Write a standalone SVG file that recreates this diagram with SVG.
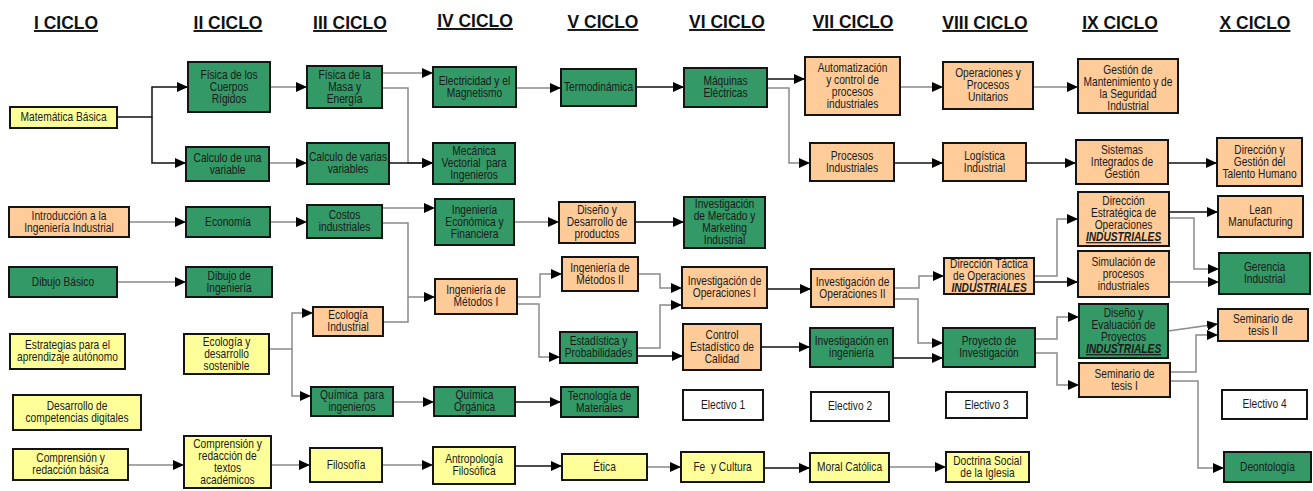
<svg xmlns="http://www.w3.org/2000/svg" width="1313" height="491" viewBox="0 0 1313 491">
<style>
rect{stroke:#141414;stroke-width:2}
.g{fill:#339966}.o{fill:#FFCC99}.y{fill:#FFFF99}.w{fill:#ffffff}
text{font-family:"Liberation Sans",Arial,sans-serif;text-anchor:middle;fill:#1a1a1a;transform-box:fill-box;transform-origin:center}
.t{font-size:12px;transform:scaleX(0.85)}
.h{font-size:19px;font-weight:bold;text-decoration:underline;transform:scaleX(0.92);fill:#111}
.ind{font-weight:bold;font-style:italic;text-decoration:underline}
#connectors path{fill:none;stroke-width:1.5}
.k{stroke:#111}.s{stroke:#8a8a8a}
.a{marker-end:url(#arr)}
</style>
<defs>
<marker id="arr" markerUnits="userSpaceOnUse" markerWidth="11" markerHeight="10" refX="11" refY="5" orient="auto"><path d="M0,0 L11,5 L0,10 z" fill="#000"/></marker>
</defs>
<g id="headers">
<text class="h" x="66" y="29">I CICLO</text>
<text class="h" x="228" y="29">II CICLO</text>
<text class="h" x="350" y="29">III CICLO</text>
<text class="h" x="475" y="27">IV CICLO</text>
<text class="h" x="603" y="28">V CICLO</text>
<text class="h" x="727" y="28">VI CICLO</text>
<text class="h" x="853" y="28">VII CICLO</text>
<text class="h" x="985" y="29">VIII CICLO</text>
<text class="h" x="1120" y="29">IX CICLO</text>
<text class="h" x="1255" y="29">X CICLO</text>
</g>
<g id="connectors">
<path class="k a" d="M117,117 H152 V87 H188"/>
<path class="k a" d="M152,117 V163 H186"/>
<path class="s a" d="M270,87 H307"/>
<path class="s a" d="M269,163 H307"/>
<path class="s a" d="M382,73 H433"/>
<path class="s a" d="M382,88 H408 V163 H433"/>
<path class="k a" d="M389,163 H433"/>
<path class="s a" d="M516,88 H561"/>
<path class="k a" d="M636,87 H684"/>
<path class="k a" d="M767,79 H805"/>
<path class="s a" d="M767,88 H789 V163 H810"/>
<path class="s a" d="M900,87 H943"/>
<path class="s a" d="M1033,87 H1078"/>
<path class="k a" d="M894,163 H943"/>
<path class="k a" d="M1026,163 H1076"/>
<path class="k a" d="M1168,163 H1217"/>
<path class="s a" d="M129,222 H186"/>
<path class="s a" d="M270,222 H307"/>
<path class="s a" d="M382,208 H435"/>
<path class="s a" d="M382,223 H408 V297 H435"/>
<path class="s" d="M383,322 H408 V297"/>
<path class="s a" d="M514,222 H559"/>
<path class="k a" d="M635,222 H684"/>
<path class="s a" d="M517,297 H540 V274 H562"/>
<path class="s a" d="M517,304 H539 V357 H560"/>
<path class="s a" d="M638,274 H660 V288 H682"/>
<path class="s a" d="M637,348 H660 V305 H682"/>
<path class="k a" d="M637,356 H683"/>
<path class="k a" d="M767,289 H811"/>
<path class="s a" d="M894,288 H919 V276 H944"/>
<path class="s a" d="M894,299 H918 V343 H943"/>
<path class="k a" d="M761,347 H810"/>
<path class="k a" d="M893,358 H943"/>
<path class="s a" d="M1034,276 H1057 V219 H1078"/>
<path class="k a" d="M1034,282 H1078"/>
<path class="k a" d="M1169,212 H1218"/>
<path class="s a" d="M1169,218 H1194 V269 H1219"/>
<path class="s a" d="M1169,282 H1219"/>
<path class="s a" d="M1035,339 H1057 V317 H1079"/>
<path class="s a" d="M1035,353 H1057 V385 H1079"/>
<path class="s a" d="M1168,331 L1218,324"/>
<path class="s a" d="M1170,372 H1196 V335 H1218"/>
<path class="s a" d="M1170,381 H1198 V468 H1224"/>
<path class="s a" d="M117,282 H186"/>
<path class="s a" d="M269,349 H292 V313 H313"/>
<path class="s a" d="M292,349 V396 H311"/>
<path class="s a" d="M393,402 H434"/>
<path class="k a" d="M515,402 H561"/>
<path class="s a" d="M128,465 H184"/>
<path class="s a" d="M271,465 H310"/>
<path class="s a" d="M382,465 H433"/>
<path class="k a" d="M515,466 H562"/>
<path class="s a" d="M647,467 H681"/>
<path class="k a" d="M764,468 H810"/>
<path class="s a" d="M889,467 H946"/>
</g>
<g id="matematica-basica"><rect class="y" x="10" y="107" width="107" height="21"/><text class="t" x="63.5" y="121.5">Matemática Básica</text></g>
<g id="introduccion"><rect class="o" x="9" y="207" width="120" height="30"/><text class="t" x="69"><tspan x="69" y="220">Introducción a la</tspan><tspan x="69" y="232">Ingeniería Industrial</tspan></text></g>
<g id="dibujo-basico"><rect class="g" x="9" y="267" width="108" height="30"/><text class="t" x="63" y="286">Dibujo Básico</text></g>
<g id="estrategias"><rect class="y" x="10" y="334" width="115" height="35"/><text class="t" x="67.5"><tspan x="67.5" y="349.5">Estrategias para el</tspan><tspan x="67.5" y="361.5">aprendizaje autónomo</tspan></text></g>
<g id="competencias-digitales"><rect class="y" x="13" y="395" width="128" height="35"/><text class="t" x="77"><tspan x="77" y="410.5">Desarrollo de</tspan><tspan x="77" y="422.5">competencias digitales</tspan></text></g>
<g id="comprension-basica"><rect class="y" x="13" y="449" width="115" height="31"/><text class="t" x="70.5"><tspan x="70.5" y="462.5">Comprensión y</tspan><tspan x="70.5" y="474.5">redacción básica</tspan></text></g>

<g id="fisica-cuerpos"><rect class="g" x="188" y="62" width="82" height="50"/><text class="t" x="229"><tspan x="229" y="79">Física de los</tspan><tspan x="229" y="91">Cuerpos</tspan><tspan x="229" y="103">Rígidos</tspan></text></g>
<g id="calculo-una"><rect class="g" x="186" y="147" width="83" height="34"/><text class="t" x="227.5"><tspan x="227.5" y="162">Calculo de una</tspan><tspan x="227.5" y="174">variable</tspan></text></g>
<g id="economia"><rect class="g" x="186" y="207" width="84" height="30"/><text class="t" x="228" y="226">Economía</text></g>
<g id="dibujo-ingenieria"><rect class="g" x="186" y="267" width="86" height="30"/><text class="t" x="229"><tspan x="229" y="280">Dibujo de</tspan><tspan x="229" y="292">Ingeniería</tspan></text></g>
<g id="ecologia-sostenible"><rect class="y" x="184" y="334" width="85" height="40"/><text class="t" x="226.5"><tspan x="226.5" y="346">Ecología y</tspan><tspan x="226.5" y="358">desarrollo</tspan><tspan x="226.5" y="370">sostenible</tspan></text></g>
<g id="comprension-textos"><rect class="y" x="184" y="436" width="87" height="52"/><text class="t" x="227.5"><tspan x="227.5" y="448">Comprensión y</tspan><tspan x="227.5" y="460">redacción de</tspan><tspan x="227.5" y="472">textos</tspan><tspan x="227.5" y="484">académicos</tspan></text></g>

<g id="fisica-masa"><rect class="g" x="307" y="66" width="75" height="42"/><text class="t" x="344.5"><tspan x="344.5" y="79">Física de la</tspan><tspan x="344.5" y="91">Masa y</tspan><tspan x="344.5" y="103">Energía</tspan></text></g>
<g id="calculo-varias"><rect class="g" x="307" y="143" width="82" height="41"/><text class="t" x="348"><tspan x="348" y="161.5">Calculo de varias</tspan><tspan x="348" y="173.5">variables</tspan></text></g>
<g id="costos"><rect class="g" x="307" y="205" width="75" height="33"/><text class="t" x="344.5"><tspan x="344.5" y="219.5">Costos</tspan><tspan x="344.5" y="231.5">industriales</tspan></text></g>
<g id="ecologia-industrial"><rect class="o" x="313" y="307" width="70" height="29"/><text class="t" x="348"><tspan x="348" y="319.5">Ecología</tspan><tspan x="348" y="331.5">Industrial</tspan></text></g>
<g id="quimica-ingenieros"><rect class="g" x="311" y="387" width="82" height="29"/><text class="t" x="352"><tspan x="352" y="399.5" xml:space="preserve">Química  para</tspan><tspan x="352" y="411.5">ingenieros</tspan></text></g>
<g id="filosofia"><rect class="y" x="310" y="448" width="72" height="34"/><text class="t" x="346" y="469">Filosofía</text></g>

<g id="electricidad"><rect class="g" x="433" y="67" width="83" height="40"/><text class="t" x="474.5"><tspan x="474.5" y="85">Electricidad y el</tspan><tspan x="474.5" y="97">Magnetismo</tspan></text></g>
<g id="mecanica"><rect class="g" x="433" y="143" width="82" height="41"/><text class="t" x="474" xml:space="preserve"><tspan x="474" y="155.5">Mecánica</tspan><tspan x="474" y="167.5">Vectorial  para</tspan><tspan x="474" y="179.5">Ingenieros</tspan></text></g>
<g id="ing-economica"><rect class="g" x="435" y="199" width="79" height="46"/><text class="t" x="474.5"><tspan x="474.5" y="214">Ingeniería</tspan><tspan x="474.5" y="226">Económica y</tspan><tspan x="474.5" y="238">Financiera</tspan></text></g>
<g id="metodos-1"><rect class="o" x="435" y="279" width="82" height="35"/><text class="t" x="476"><tspan x="476" y="294.5">Ingeniería de</tspan><tspan x="476" y="306.5">Métodos I</tspan></text></g>
<g id="quimica-organica"><rect class="g" x="434" y="387" width="81" height="29"/><text class="t" x="474.5"><tspan x="474.5" y="399.5">Química</tspan><tspan x="474.5" y="411.5">Orgánica</tspan></text></g>
<g id="antropologia"><rect class="y" x="433" y="447" width="82" height="37"/><text class="t" x="474"><tspan x="474" y="463.5">Antropología</tspan><tspan x="474" y="475.5">Filosófica</tspan></text></g>

<g id="termodinamica"><rect class="g" x="561" y="69" width="75" height="37"/><text class="t" x="598.5" y="91.5">Termodinámica</text></g>
<g id="diseno-productos"><rect class="o" x="559" y="202" width="76" height="41"/><text class="t" x="597"><tspan x="597" y="214.5">Diseño y</tspan><tspan x="597" y="226.5">Desarrollo de</tspan><tspan x="597" y="238.5">productos</tspan></text></g>
<g id="metodos-2"><rect class="o" x="562" y="257" width="76" height="34"/><text class="t" x="600"><tspan x="600" y="272">Ingeniería de</tspan><tspan x="600" y="284">Métodos II</tspan></text></g>
<g id="estadistica"><rect class="g" x="560" y="332" width="77" height="31"/><text class="t" x="598.5"><tspan x="598.5" y="345.5">Estadística y</tspan><tspan x="598.5" y="357.5">Probabilidades</tspan></text></g>
<g id="tecnologia-materiales"><rect class="g" x="561" y="387" width="77" height="30"/><text class="t" x="599.5"><tspan x="599.5" y="400">Tecnología de</tspan><tspan x="599.5" y="412">Materiales</tspan></text></g>
<g id="etica"><rect class="y" x="562" y="454" width="85" height="26"/><text class="t" x="604.5" y="471">Ética</text></g>

<g id="maquinas"><rect class="g" x="684" y="68" width="83" height="39"/><text class="t" x="725.5"><tspan x="725.5" y="85.5">Máquinas</tspan><tspan x="725.5" y="97.5">Eléctricas</tspan></text></g>
<g id="inv-mercado"><rect class="g" x="684" y="197" width="81" height="51"/><text class="t" x="724.5"><tspan x="724.5" y="208.5">Investigación</tspan><tspan x="724.5" y="220.5">de Mercado y</tspan><tspan x="724.5" y="232.5">Marketing</tspan><tspan x="724.5" y="244.5">Industrial</tspan></text></g>
<g id="inv-op-1"><rect class="o" x="682" y="267" width="85" height="41"/><text class="t" x="724.5"><tspan x="724.5" y="285.5">Investigación de</tspan><tspan x="724.5" y="297.5">Operaciones I</tspan></text></g>
<g id="control-estadistico"><rect class="o" x="683" y="324" width="78" height="46"/><text class="t" x="722"><tspan x="722" y="339">Control</tspan><tspan x="722" y="351">Estadístico de</tspan><tspan x="722" y="363">Calidad</tspan></text></g>
<g id="electivo-1"><rect class="w" x="683" y="390" width="80" height="30"/><text class="t" x="723" y="409">Electivo 1</text></g>
<g id="fe-cultura"><rect class="y" x="681" y="452" width="83" height="30"/><text class="t" x="722.5" y="471" xml:space="preserve">Fe  y Cultura</text></g>

<g id="automatizacion"><rect class="o" x="805" y="57" width="95" height="58"/><text class="t" x="852.5"><tspan x="852.5" y="72">Automatización</tspan><tspan x="852.5" y="84">y control de</tspan><tspan x="852.5" y="96">procesos</tspan><tspan x="852.5" y="108">industriales</tspan></text></g>
<g id="procesos-industriales"><rect class="o" x="810" y="143" width="84" height="38"/><text class="t" x="852"><tspan x="852" y="160">Procesos</tspan><tspan x="852" y="172">Industriales</tspan></text></g>
<g id="inv-op-2"><rect class="o" x="811" y="269" width="83" height="38"/><text class="t" x="852.5"><tspan x="852.5" y="286">Investigación de</tspan><tspan x="852.5" y="298">Operaciones II</tspan></text></g>
<g id="inv-ingenieria"><rect class="g" x="810" y="328" width="83" height="39"/><text class="t" x="851.5"><tspan x="851.5" y="345.5">Investigación en</tspan><tspan x="851.5" y="357.5">ingeniería</tspan></text></g>
<g id="electivo-2"><rect class="w" x="811" y="392" width="78" height="29"/><text class="t" x="850" y="410.5">Electivo 2</text></g>
<g id="moral-catolica"><rect class="y" x="810" y="453" width="79" height="29"/><text class="t" x="849.5" y="471.5">Moral Católica</text></g>

<g id="operaciones-procesos"><rect class="o" x="943" y="62" width="90" height="47"/><text class="t" x="988"><tspan x="988" y="77.5">Operaciones y</tspan><tspan x="988" y="89.5">Procesos</tspan><tspan x="988" y="101.5">Unitarios</tspan></text></g>
<g id="logistica"><rect class="o" x="943" y="143" width="83" height="38"/><text class="t" x="984.5"><tspan x="984.5" y="160">Logística</tspan><tspan x="984.5" y="172">Industrial</tspan></text></g>
<g id="direccion-tactica"><rect class="o" x="944" y="258" width="90" height="36"/><text class="t" x="989"><tspan x="989" y="268">Dirección Táctica</tspan><tspan x="989" y="280">de Operaciones</tspan><tspan x="989" y="292" class="ind">INDUSTRIALES</tspan></text></g>
<g id="proyecto-investigacion"><rect class="g" x="943" y="328" width="92" height="39"/><text class="t" x="989"><tspan x="989" y="345.5">Proyecto de</tspan><tspan x="989" y="357.5">Investigación</tspan></text></g>
<g id="electivo-3"><rect class="w" x="946" y="392" width="81" height="26"/><text class="t" x="986.5" y="409">Electivo 3</text></g>
<g id="doctrina-social"><rect class="y" x="946" y="452" width="83" height="30"/><text class="t" x="987.5"><tspan x="987.5" y="465">Doctrina Social</tspan><tspan x="987.5" y="477">de la Iglesia</tspan></text></g>

<g id="gestion-mantenimiento"><rect class="o" x="1078" y="59" width="100" height="54"/><text class="t" x="1128"><tspan x="1128" y="74">Gestión de</tspan><tspan x="1128" y="86">Mantenimiento y de</tspan><tspan x="1128" y="98">la Seguridad</tspan><tspan x="1128" y="110">Industrial</tspan></text></g>
<g id="sistemas-integrados"><rect class="o" x="1076" y="140" width="92" height="44"/><text class="t" x="1122"><tspan x="1122" y="154">Sistemas</tspan><tspan x="1122" y="166">Integrados de</tspan><tspan x="1122" y="178">Gestión</tspan></text></g>
<g id="direccion-estrategica"><rect class="o" x="1078" y="192" width="91" height="54"/><text class="t" x="1123.5"><tspan x="1123.5" y="205">Dirección</tspan><tspan x="1123.5" y="217">Estratégica de</tspan><tspan x="1123.5" y="229">Operaciones</tspan><tspan x="1123.5" y="241" class="ind">INDUSTRIALES</tspan></text></g>
<g id="simulacion"><rect class="o" x="1078" y="251" width="91" height="46"/><text class="t" x="1123.5"><tspan x="1123.5" y="266">Simulación de</tspan><tspan x="1123.5" y="278">procesos</tspan><tspan x="1123.5" y="290">industriales</tspan></text></g>
<g id="diseno-evaluacion"><rect class="g" x="1079" y="304" width="89" height="54"/><text class="t" x="1123.5"><tspan x="1123.5" y="317">Diseño y</tspan><tspan x="1123.5" y="329">Evaluación de</tspan><tspan x="1123.5" y="341">Proyectos</tspan><tspan x="1123.5" y="353" class="ind">INDUSTRIALES</tspan></text></g>
<g id="seminario-1"><rect class="o" x="1079" y="363" width="91" height="34"/><text class="t" x="1124.5"><tspan x="1124.5" y="378">Seminario de</tspan><tspan x="1124.5" y="390">tesis I</tspan></text></g>

<g id="talento-humano"><rect class="o" x="1217" y="138" width="85" height="48"/><text class="t" x="1259.5"><tspan x="1259.5" y="154">Dirección y</tspan><tspan x="1259.5" y="166">Gestión del</tspan><tspan x="1259.5" y="178">Talento Humano</tspan></text></g>
<g id="lean"><rect class="o" x="1218" y="196" width="85" height="41"/><text class="t" x="1260.5"><tspan x="1260.5" y="214.5">Lean</tspan><tspan x="1260.5" y="226.5">Manufacturing</tspan></text></g>
<g id="gerencia"><rect class="g" x="1219" y="253" width="91" height="41"/><text class="t" x="1264.5"><tspan x="1264.5" y="271.5">Gerencia</tspan><tspan x="1264.5" y="283.5">Industrial</tspan></text></g>
<g id="seminario-2"><rect class="o" x="1218" y="309" width="90" height="32"/><text class="t" x="1263"><tspan x="1263" y="323">Seminario de</tspan><tspan x="1263" y="335">tesis II</tspan></text></g>
<g id="electivo-4"><rect class="w" x="1222" y="390" width="85" height="29"/><text class="t" x="1264.5" y="408.5">Electivo 4</text></g>
<g id="deontologia"><rect class="g" x="1224" y="452" width="87" height="30"/><text class="t" x="1267.5" y="471">Deontología</text></g>
</svg>
